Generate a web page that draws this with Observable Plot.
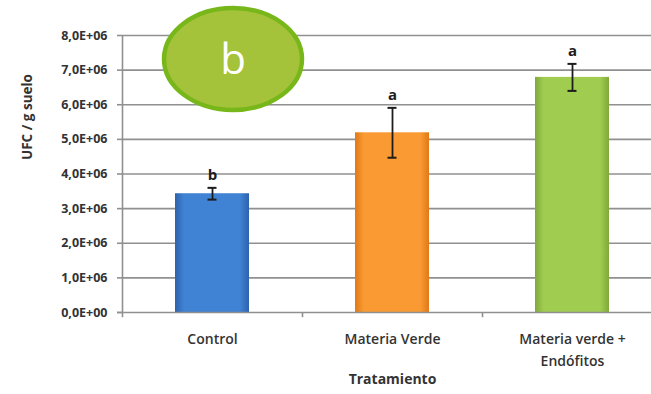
<!DOCTYPE html>
<html>
<head>
<meta charset="utf-8">
<script src="https://cdn.jsdelivr.net/npm/d3@7"></script>
<script src="https://cdn.jsdelivr.net/npm/@observablehq/plot@0.6"></script>
<style>
  body { margin: 0; background: #fff; }
  #chart svg { display: block; }
</style>
</head>
<body>
<div id="chart"></div>
<script>
// Treatments, mean colony counts (UFC / g suelo), standard errors and significance letters
const categories = ["Control", "Materia Verde", "Materia verde + Endófitos"];
const categoryLabels = ["Control", "Materia Verde", "Materia verde +\nEndófitos"];
const means = [3.43e6, 5.19e6, 6.79e6];
const errors = [0.17e6, 0.72e6, 0.39e6];
const letters = ["b", "a", "a"];

// Y axis ticks and their labels
const yTicks = [0, 1e6, 2e6, 3e6, 4e6, 5e6, 6e6, 7e6, 8e6];
const yTickLabels = ["0,0E+00", "1,0E+06", "2,0E+06", "3,0E+06", "4,0E+06",
                     "5,0E+06", "6,0E+06", "7,0E+06", "8,0E+06"];

// Bar gradient stops: [edge, centre] per treatment
const barColors = [
  ["#2c62ad", "#4082d3"],
  ["#e07a18", "#fa9a32"],
  ["#7fa93a", "#a0cd50"]
];

const data = categories.map((c, i) => ({
  cat: c,
  mean: means[i],
  lo: means[i] - errors[i],
  hi: means[i] + errors[i],
  letter: letters[i],
  fill: `url(#bar-grad-${i})`
}));

const font = "'Open Sans', 'Liberation Sans', sans-serif";
const ink = "#333333";

const chart = Plot.plot({
  width: 651,
  height: 394,
  marginLeft: 122,
  marginRight: 0,
  marginTop: 35,
  marginBottom: 82,
  style: { fontFamily: font, color: ink, background: "#fff" },
  x: { domain: categories, range: [122, 662], paddingInner: 0.59, paddingOuter: 0.295 },
  y: { domain: [0, 8e6] },
  color: { type: "identity" },
  marks: [
    // horizontal gridlines
    Plot.ruleY(yTicks.slice(1), { stroke: "#909090", strokeWidth: 1.6 }),
    // vertical axis line
    Plot.ruleX([categories[0]], { x: d => d, dx: -90, y1: -0.15e6, y2: 8e6, stroke: "#909090", strokeWidth: 1.6 }),
    // category boundary ticks under the baseline
    Plot.ruleX(categories.slice(1), { x: d => d, dx: -90, y1: 0, y2: -0.15e6, stroke: "#909090", strokeWidth: 1.6 }),
    Plot.axisY({
      ticks: yTicks,
      tickSize: 5,
      tickPadding: 10,
      tickFormat: d => yTickLabels[yTicks.indexOf(d)],
      stroke: "#909090",
      strokeWidth: 1.6,
      fontSize: 12.5,
      fontWeight: 700,
      fill: ink,
      label: null
    }),
    Plot.barY(data, { x: "cat", y: "mean", fill: "fill" }),
    // baseline
    Plot.ruleY([0], { stroke: "#909090", strokeWidth: 1.6, insetLeft: -5 }),
    // error bars
    Plot.ruleX(data, { x: "cat", y1: "lo", y2: "hi", stroke: "#1c1c1c", strokeWidth: 1.8 }),
    Plot.tickY(data, { x: "cat", y: "hi", stroke: "#1c1c1c", strokeWidth: 2, insetLeft: 32.5, insetRight: 32.5 }),
    Plot.tickY(data, { x: "cat", y: "lo", stroke: "#1c1c1c", strokeWidth: 2, insetLeft: 32.5, insetRight: 32.5 }),
    // significance letters
    Plot.text(data, { x: "cat", y: "hi", text: "letter", dy: -13, fontSize: 15, fontWeight: "bold", fill: "#1c1c1c" }),
    Plot.axisX({
      tickSize: 0,
      tickPadding: 15,
      tickFormat: d => categoryLabels[categories.indexOf(d)],
      fontSize: 14,
      fontWeight: 600,
      lineHeight: 1.62,
      fill: ink,
      label: null
    }),
    // axis titles
    Plot.text([categories[1]], { x: d => d, text: () => "Tratamiento", frameAnchor: "bottom", dy: 71, fontSize: 14, fontWeight: "bold", fill: ink }),
    Plot.text(["UFC / g suelo"], { text: d => d, frameAnchor: "left", rotate: -90, dx: -95, dy: -14, fontSize: 13.5, fontWeight: "bold", fill: ink })
  ]
});

// gradients used by the bars
const svg = d3.select(chart);
const defs = svg.insert("defs", ":first-child");
barColors.forEach(([edge, mid], i) => {
  const g = defs.append("linearGradient").attr("id", `bar-grad-${i}`)
    .attr("x1", "0").attr("x2", "1").attr("y1", "0").attr("y2", "0");
  g.append("stop").attr("offset", "0").attr("stop-color", edge);
  g.append("stop").attr("offset", "0.12").attr("stop-color", mid);
  g.append("stop").attr("offset", "0.88").attr("stop-color", mid);
  g.append("stop").attr("offset", "1").attr("stop-color", edge);
});

// panel badge
const badge = svg.append("g").attr("transform", "translate(233,59)");
badge.append("ellipse").attr("rx", 69).attr("ry", 51)
  .attr("fill", "#a5c23b").attr("stroke", "#78b71a").attr("stroke-width", 4.5);
badge.append("text").text("b")
  .attr("text-anchor", "middle").attr("dy", "0.35em")
  .attr("fill", "#fff").attr("font-size", 42).attr("font-family", font);

document.getElementById("chart").appendChild(chart);
</script>
</body>
</html>
